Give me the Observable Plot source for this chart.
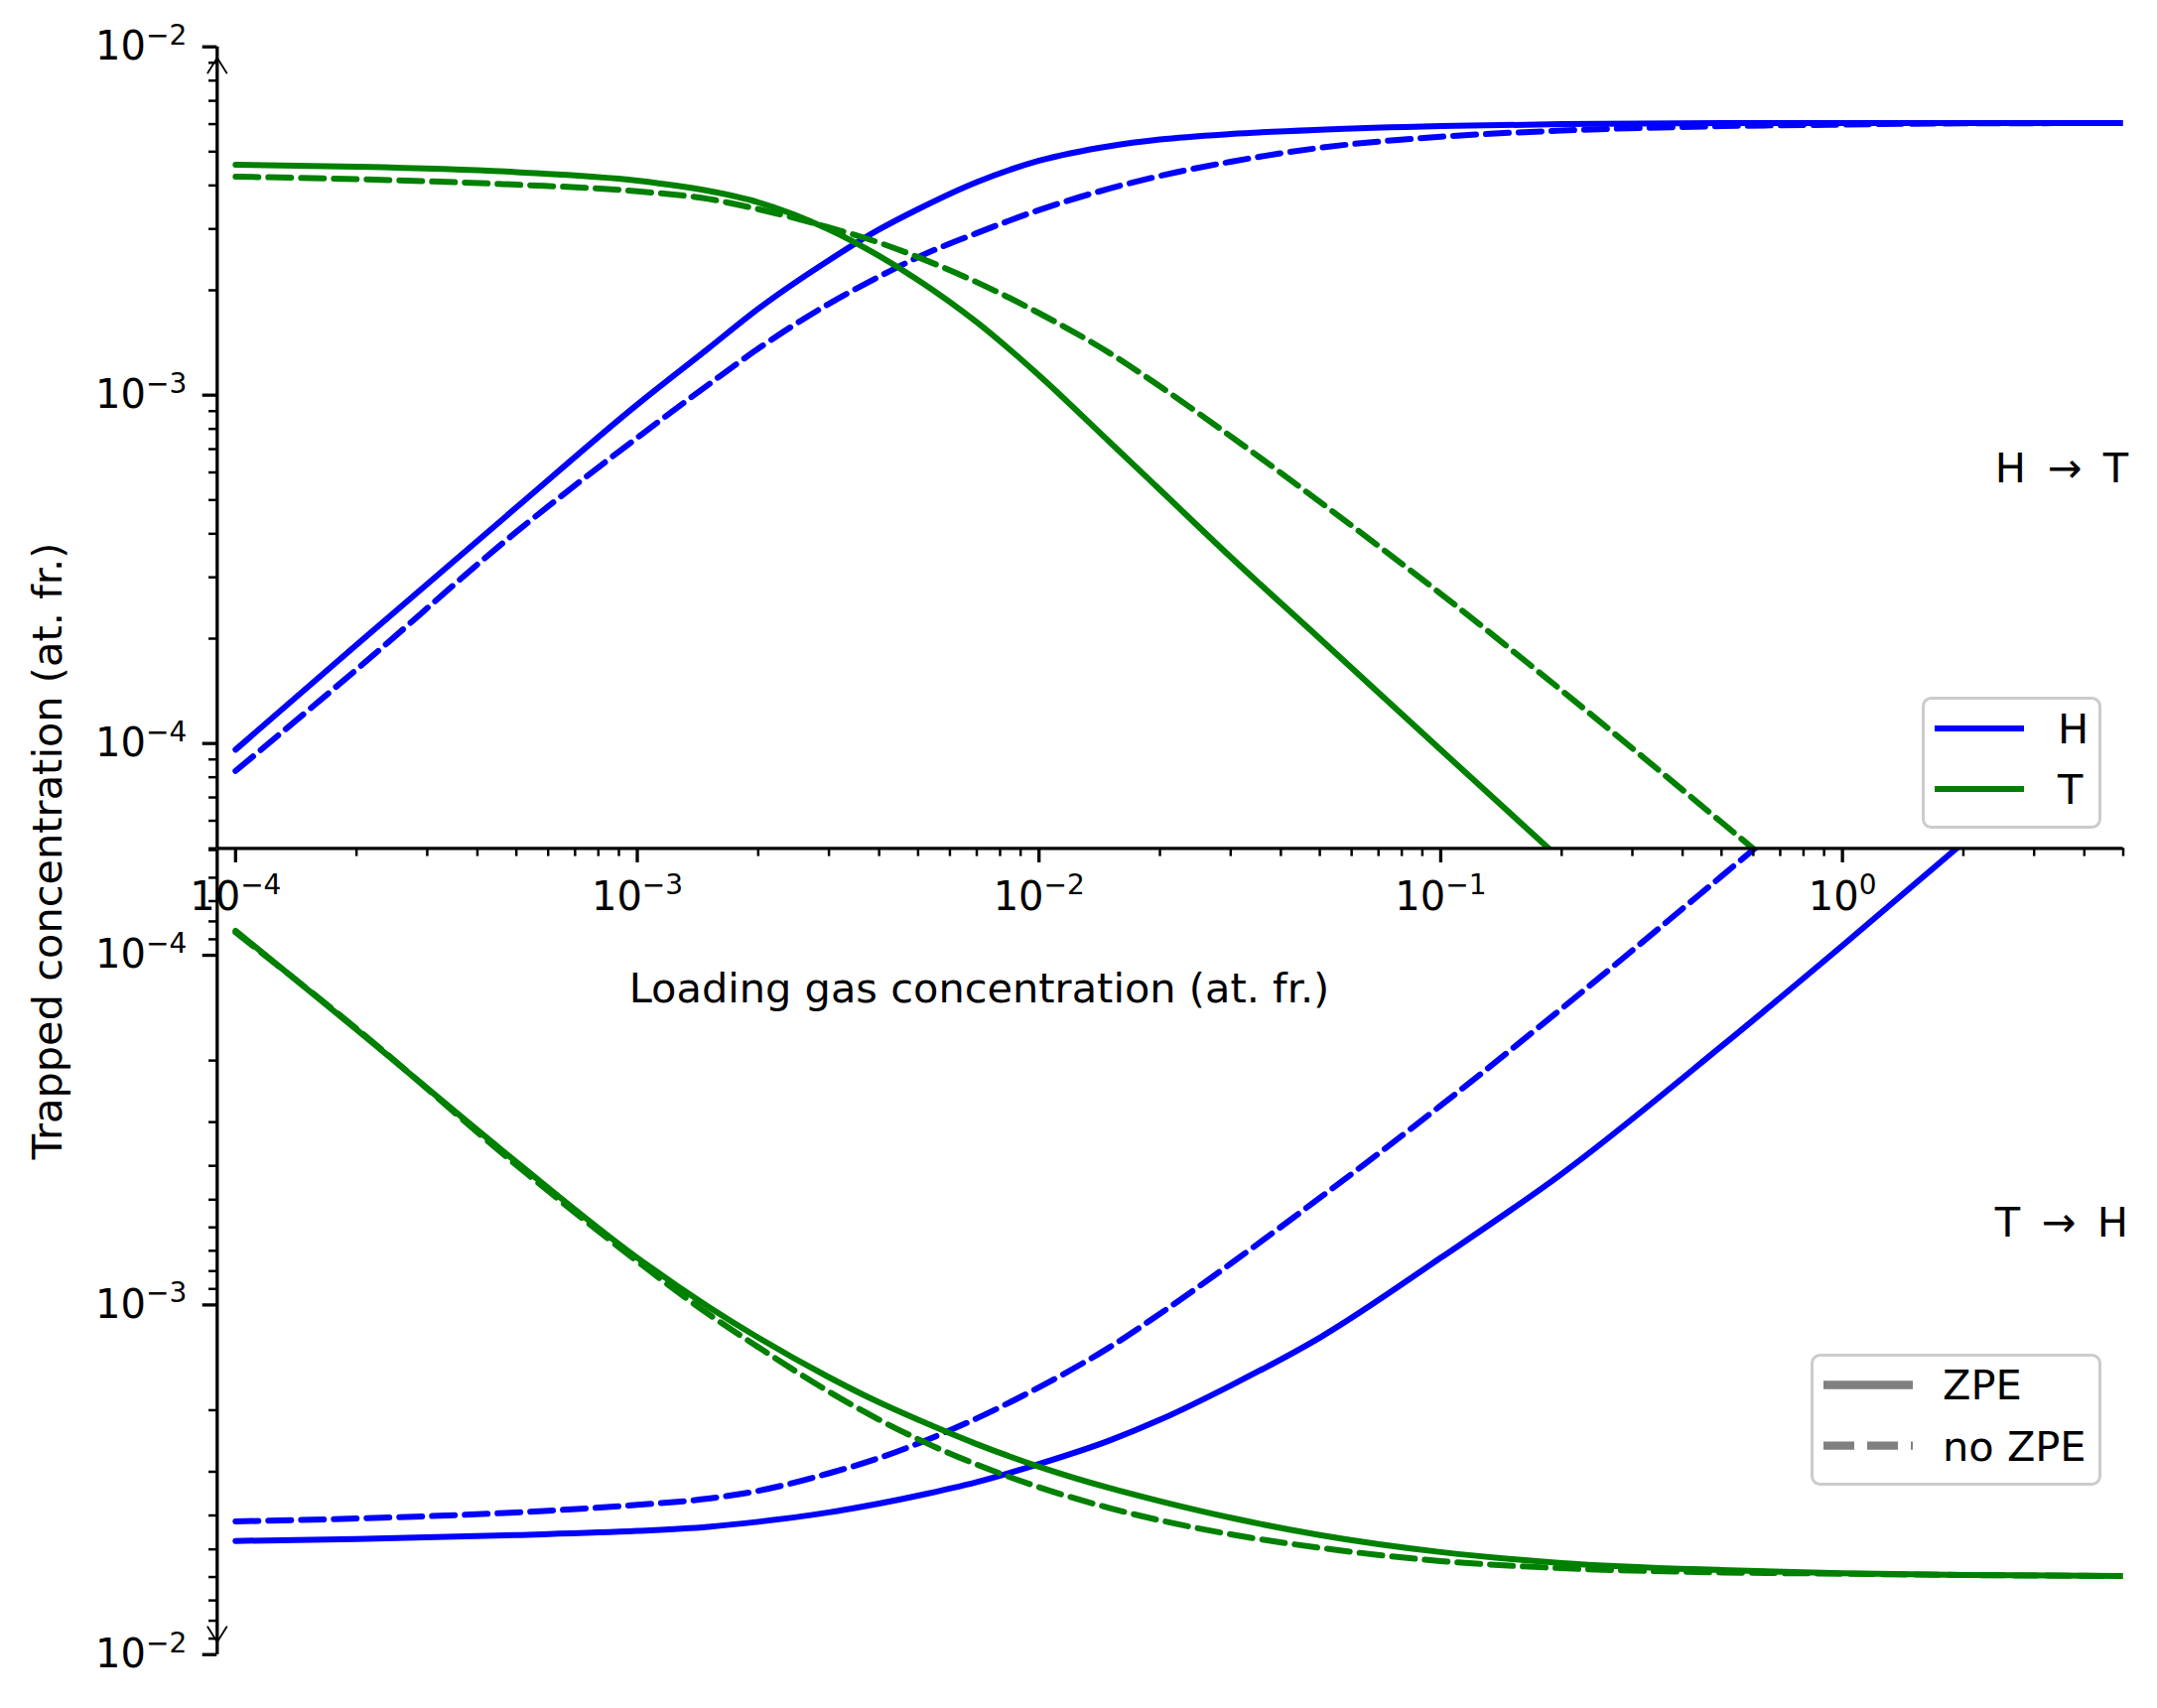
<!DOCTYPE html>
<html><head><meta charset="utf-8">
<script src="https://cdn.jsdelivr.net/npm/d3@7"></script>
<script src="https://cdn.jsdelivr.net/npm/@observablehq/plot@0.6"></script>
<style>
body{margin:0;background:#fff;}
#fig{position:relative;width:2173px;height:1721px;background:#fff;font-family:"DejaVu Sans",sans-serif;overflow:hidden;}
#fig svg{position:absolute;left:0;top:0;}
</style></head><body><div id="fig"></div>
<script>
// ---- data ----
const loading = [1e-4, 2e-4, 5e-4, 1e-3, 1.5e-3, 2e-3, 3e-3, 4e-3, 5e-3, 7e-3, 1e-2, 1.5e-2, 2e-2, 3e-2, 5e-2, 0.1, 0.2, 0.5, 1, 2, 5];

// top panel: H -> T
const topH_ZPE   = [9.6e-5, 1.92e-4, 4.76e-4, 9.4e-4, 1.36e-3, 1.77e-3, 2.44e-3, 2.99e-3, 3.42e-3, 4.09e-3, 4.71e-3, 5.19e-3, 5.42e-3, 5.62e-3, 5.78e-3, 5.92e-3, 6.0e-3, 6.04e-3, 6.04e-3, 6.04e-3, 6.04e-3];
const topH_noZPE = [8.34e-5, 1.63e-4, 4.05e-4, 7.55e-4, 1.07e-3, 1.36e-3, 1.83e-3, 2.19e-3, 2.49e-3, 2.92e-3, 3.40e-3, 3.92e-3, 4.26e-3, 4.68e-3, 5.13e-3, 5.52e-3, 5.75e-3, 5.92e-3, 5.98e-3, 6.03e-3, 6.04e-3];
const topT_ZPE   = [4.59e-3, 4.53e-3, 4.37e-3, 4.13e-3, 3.86e-3, 3.58e-3, 2.99e-3, 2.51e-3, 2.14e-3, 1.62e-3, 1.14e-3, 7.33e-4, 5.35e-4, 3.43e-4, 2.00e-4, 9.59e-5, 4.62e-5, null, null, null, null];
const topT_noZPE = [4.24e-3, 4.17e-3, 4.02e-3, 3.85e-3, 3.66e-3, 3.42e-3, 3.03e-3, 2.74e-3, 2.49e-3, 2.11e-3, 1.72e-3, 1.32e-3, 1.06e-3, 7.62e-4, 4.94e-4, 2.69e-4, 1.42e-4, 5.94e-5, 3.05e-5, null, null];

// bottom panel: T -> H
const botH_ZPE   = [4.73e-3, 4.67e-3, 4.55e-3, 4.43e-3, 4.31e-3, 4.17e-3, 3.92e-3, 3.70e-3, 3.51e-3, 3.21e-3, 2.85e-3, 2.44e-3, 2.13e-3, 1.70e-3, 1.24e-3, 7.33e-4, 4.22e-4, 1.82e-4, 9.38e-5, 4.76e-5, null];
const botH_noZPE = [4.16e-3, 4.08e-3, 3.92e-3, 3.73e-3, 3.58e-3, 3.40e-3, 3.03e-3, 2.74e-3, 2.49e-3, 2.11e-3, 1.72e-3, 1.32e-3, 1.06e-3, 7.62e-4, 4.94e-4, 2.69e-4, 1.42e-4, 5.94e-5, 3.05e-5, null, null];
const botT_ZPE   = [8.51e-5, 1.63e-4, 3.90e-4, 7.33e-4, 1.01e-3, 1.24e-3, 1.61e-3, 1.90e-3, 2.13e-3, 2.50e-3, 2.90e-3, 3.34e-3, 3.64e-3, 4.06e-3, 4.55e-3, 5.09e-3, 5.47e-3, 5.73e-3, 5.85e-3, 5.92e-3, 5.96e-3];
const botT_noZPE = [8.6e-5, 1.62e-4, 3.98e-4, 7.5e-4, 1.06e-3, 1.32e-3, 1.77e-3, 2.13e-3, 2.42e-3, 2.86e-3, 3.32e-3, 3.81e-3, 4.13e-3, 4.53e-3, 4.95e-3, 5.40e-3, 5.66e-3, 5.82e-3, 5.87e-3, 5.92e-3, 5.96e-3];

const xMajorTicks = [1e-4, 1e-3, 1e-2, 1e-1, 1];
const yMajorTicks = [1e-4, 1e-3, 1e-2];
const xDomain = [9e-5, 5];
const yDomain = [5e-5, 1e-2];
const speciesColor = {H: "#0000ff", T: "#008000"};
const xLabel = "Loading gas concentration (at. fr.)";
const yLabel = "Trapped concentration (at. fr.)";
const topNote = "H \u2009\u2192\u2009 T";
const botNote = "T \u2009\u2192\u2009 H";

// ---- helpers ----
const W = 2173, H = 1721;
const FONT = '"DejaVu Sans", sans-serif';
const L = 218.3, R = 2138.5;
const minorX = [-4,-3,-2,-1,0].flatMap(e => d3.range(2,10).map(k => k*Math.pow(10,e))).filter(v => v >= xDomain[0] && v <= xDomain[1]*1.0001);
const minorY = [-5,-4,-3].flatMap(e => d3.range(2,10).map(k => k*Math.pow(10,e))).filter(v => v >= yDomain[0]*0.999 && v <= yDomain[1]);
const fmt = d => "10^" + String(Math.round(Math.log10(d))).replace("-", "\u2212");

function rows(ys){ return loading.map((x,i)=>({x, y: ys[i]})).filter(d => d.y != null); }
function lineMarks(series){
  return series.map(s => Plot.line(rows(s.values), {x: "x", y: "y", stroke: speciesColor[s.sp], strokeWidth: 6,
    strokeDasharray: s.dash ? "23,10" : null, curve: "monotone-x", clip: true}));
}
function axesY(){
  return [
    Plot.axisY(yMajorTicks, {tickSize: 14.6, tickPadding: 16, tickFormat: fmt, strokeWidth: 3.3, label: null, fontSize: 40}),
    Plot.axisY(minorY, {tickSize: 8.3, tickFormat: () => "", strokeWidth: 2.5, label: null})
  ];
}
const style = {background: "transparent", fontFamily: FONT, fontSize: "40px", color: "black", overflow: "visible"};
const arrowOpts = {x1: "x", x2: "x", y1: "y1", y2: "y2", stroke: "black", strokeWidth: 1.8, headLength: 15, headAngle: 64};

const topPlot = Plot.plot({
  width: W, height: H,
  marginTop: 46.7, marginBottom: H - 854.3, marginLeft: L, marginRight: W - R,
  style,
  x: {type: "log", domain: xDomain},
  y: {type: "log", domain: yDomain},
  marks: [
    ...lineMarks([
      {values: topH_ZPE, sp: "H"}, {values: topH_noZPE, sp: "H", dash: true},
      {values: topT_ZPE, sp: "T"}, {values: topT_noZPE, sp: "T", dash: true}
    ]),
    ...axesY(),
    Plot.axisX(xMajorTicks, {tickSize: 14.6, tickPadding: 19, tickFormat: fmt, strokeWidth: 3.3, label: null, fontSize: 40}),
    Plot.axisX(minorX, {tickSize: 8.3, tickFormat: () => "", strokeWidth: 2.5, label: null}),
    Plot.ruleX([xDomain[0]], {stroke: "black", strokeWidth: 3.3}),
    Plot.ruleY([yDomain[0]], {stroke: "black", strokeWidth: 3.3}),
    Plot.arrow([{x: xDomain[0], y1: 3e-3, y2: 9.3e-3}], arrowOpts),
    Plot.text([topNote], {frameAnchor: "right", textAnchor: "end", lineAnchor: "middle", dx: 5, dy: 22, fontSize: 41.5, fill: "black"}),
    Plot.text([xLabel], {frameAnchor: "bottom", textAnchor: "middle", lineAnchor: "middle", dx: 986 - (L+R)/2, dy: 142, fontSize: 41.5, fill: "black"}),
    Plot.text([yLabel], {frameAnchor: "left", textAnchor: "middle", lineAnchor: "middle", rotate: -90, dx: 48 - L, dy: 857 - (46.7+854.3)/2, fontSize: 41.5, fill: "black"})
  ]
});

const botTop = 856, botBottom = 1666.7;
const botPlot = Plot.plot({
  width: W, height: H,
  marginTop: botTop, marginBottom: H - botBottom, marginLeft: L, marginRight: W - R,
  style,
  x: {type: "log", domain: xDomain, axis: null},
  y: {type: "log", domain: yDomain, reverse: true},
  marks: [
    ...lineMarks([
      {values: botH_ZPE, sp: "H"}, {values: botH_noZPE, sp: "H", dash: true},
      {values: botT_ZPE, sp: "T"}, {values: botT_noZPE, sp: "T", dash: true}
    ]),
    ...axesY(),
    Plot.ruleX([xDomain[0]], {stroke: "black", strokeWidth: 3.3}),
    Plot.arrow([{x: xDomain[0], y1: 3e-3, y2: 9.2e-3}], arrowOpts),
    Plot.text([botNote], {frameAnchor: "right", textAnchor: "end", lineAnchor: "middle", dx: 5, dy: 1232.6 - (botTop+botBottom)/2, fontSize: 41.5, fill: "black"})
  ]
});

function supTicks(svg){
  svg.querySelectorAll("text").forEach(t => {
    const m = /^10\^(.+)$/.exec(t.textContent);
    if (!m) return;
    t.textContent = "10";
    const ts = document.createElementNS("http://www.w3.org/2000/svg", "tspan");
    ts.setAttribute("font-size", "0.7em");
    ts.setAttribute("dy", "-0.55em");
    ts.textContent = m[1];
    t.appendChild(ts);
  });
}
supTicks(topPlot); supTicks(botPlot);

const fig = document.getElementById("fig");
fig.appendChild(botPlot);
fig.appendChild(topPlot);

// ---- legends (separate overlay elements) ----
function legend(x, y, w, h, items, lw, textX){
  const s = d3.create("svg").attr("width", w).attr("height", h)
    .style("left", x + "px").style("top", y + "px").style("position", "absolute");
  s.append("rect").attr("x", 1.5).attr("y", 1.5).attr("width", w - 3).attr("height", h - 3)
    .attr("rx", 8).attr("fill", "rgba(255,255,255,0.8)").attr("stroke", "#cccccc").attr("stroke-width", 3);
  items.forEach(it => {
    s.append("line").attr("x1", 13).attr("x2", 103).attr("y1", it.y).attr("y2", it.y)
      .attr("stroke", it.color).attr("stroke-width", lw).attr("stroke-dasharray", it.dash || null);
    s.append("text").attr("x", textX).attr("y", it.y).attr("dy", "0.36em")
      .attr("font-family", FONT).attr("font-size", 41.5).attr("fill", "black").text(it.label);
  });
  return s.node();
}
fig.appendChild(legend(1936, 702, 181, 133, [
  {label: "H", color: speciesColor.H, y: 32},
  {label: "T", color: speciesColor.T, y: 93}
], 6, 137));
fig.appendChild(legend(1824, 1364, 293, 133, [
  {label: "ZPE", color: "#808080", y: 31.5},
  {label: "no ZPE", color: "#808080", y: 92.7, dash: "31,13"}
], 8.3, 133));
</script></body></html>
